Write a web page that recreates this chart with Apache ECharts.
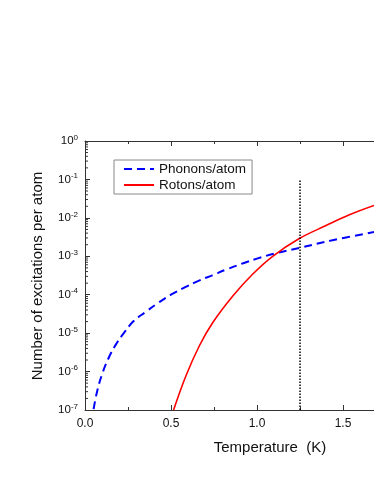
<!DOCTYPE html>
<html>
<head>
<meta charset="utf-8">
<script src="https://cdn.jsdelivr.net/npm/echarts@6/dist/echarts.min.js"></script>
<style>
html,body{margin:0;padding:0;background:#fff;}
#chart{width:374px;height:484px;}
</style>
</head>
<body>
<div id="chart"></div>
<script>
// ---- data ----
const temperaturePhonons = [0.05, 0.07, 0.10, 0.14, 0.18, 0.22, 0.28, 0.35, 0.43, 0.50, 0.58, 0.66, 0.74, 0.82, 0.92, 1.00, 1.10, 1.25, 1.44, 1.68];
const phononsPerAtom = [1.05e-7, 3.0e-7, 8.7e-7, 2.4e-6, 5.1e-6, 9.3e-6, 2.0e-5, 3.5e-5, 6.3e-5, 1.0e-4, 1.55e-4, 2.3e-4, 3.2e-4, 4.5e-4, 6.6e-4, 8.7e-4, 1.17e-3, 1.66e-3, 2.63e-3, 4.27e-3];
const temperatureRotons = [0.515, 0.587, 0.665, 0.742, 0.858, 0.974, 1.091, 1.246, 1.401, 1.537, 1.68];
const rotonsPerAtom = [1.0e-7, 7.8e-7, 4.7e-6, 1.86e-5, 9.1e-5, 3.4e-4, 1.0e-3, 2.9e-3, 6.3e-3, 1.2e-2, 2.1e-2];
const markerTemperature = [1.25, 1.25];
const markerRange = [1e-7, 0.1];
const seriesNames = ['Phonons/atom', 'Rotons/atom'];
const xTickLabels = ['0.0', '0.5', '1.0', '1.5'];
const yMinorMantissas = [2, 3, 4, 5, 6, 7, 8, 9];
const yDecadeExponents = [-7, -6, -5, -4, -3, -2, -1];

const FONT = "'Liberation Sans', Arial, Helvetica, sans-serif";
const zip = (a, b) => a.map((v, i) => [v, b[i]]);

const yMinorTicks = [];
yDecadeExponents.forEach(e => yMinorMantissas.forEach(m => yMinorTicks.push([0, m * Math.pow(10, e)])));

const chart = echarts.init(document.getElementById('chart'), null, {renderer: 'canvas'});

const xCommon = {
  type: 'value', min: 0, max: 1.68, interval: 0.5,
  splitLine: {show: false},
  axisLine: {show: true, onZero: false, lineStyle: {color: '#333', width: 1}},
  axisTick: {show: true, inside: true, length: 5, lineStyle: {color: '#333'}},
  minorTick: {show: true, splitNumber: 2, length: 3, lineStyle: {color: '#333'}},
  minorSplitLine: {show: false}
};

chart.setOption({
  animation: false,
  backgroundColor: '#fff',
  textStyle: {fontFamily: FONT},
  grid: {left: 85, right: 0, top: 141, bottom: 74, containLabel: false},
  legend: {
    data: seriesNames,
    orient: 'vertical',
    left: 114, top: 160,
    padding: [2, 6, 2, 9],
    itemGap: 2,
    itemWidth: 30, itemHeight: 12,
    itemStyle: {opacity: 0},
    borderColor: '#888', borderWidth: 1, borderRadius: 0,
    backgroundColor: '#fff',
    textStyle: {fontFamily: FONT, fontSize: 13.5, color: '#111'}
  },
  xAxis: [
    Object.assign({}, xCommon, {
      position: 'bottom',
      axisLabel: {
        show: true, margin: 8, fontSize: 12, color: '#111', fontFamily: FONT,
        showMaxLabel: false,
        formatter: v => {
          const i = Math.round(v / 0.5);
          return Math.abs(v - i * 0.5) < 1e-6 && xTickLabels[i] !== undefined ? xTickLabels[i] : '';
        }
      }
    }),
    Object.assign({}, xCommon, {position: 'top', axisLabel: {show: false}})
  ],
  yAxis: {
    type: 'log', logBase: 10, min: 1e-7, max: 1, splitNumber: 7,
    splitLine: {show: false},
    axisLine: {show: true, lineStyle: {color: '#333', width: 1}},
    axisTick: {show: true, inside: true, length: 5, lineStyle: {color: '#333'}},
    axisLabel: {
      margin: 7, color: '#111', fontFamily: FONT,
      formatter: v => '{b|10}{s|' + Math.round(Math.log10(v)) + '}',
      rich: {
        b: {fontSize: 11.5, fontFamily: FONT, color: '#111'},
        s: {fontSize: 8, fontFamily: FONT, color: '#111', padding: [0, 0, 7, 0]}
      }
    }
  },
  graphic: [
    {type: 'text', x: 270, y: 448,
     style: {text: 'Temperature  (K)', font: '15px ' + FONT, fill: '#111', textAlign: 'center', textVerticalAlign: 'middle'}},
    {type: 'text', x: 38, y: 276, rotation: Math.PI / 2,
     style: {text: 'Number of excitations per atom', font: '15px ' + FONT, fill: '#111', textAlign: 'center', textVerticalAlign: 'middle'}}
  ],
  series: [
    {
      name: seriesNames[0], type: 'line', xAxisIndex: 0, yAxisIndex: 0,
      data: zip(temperaturePhonons, phononsPerAtom),
      smooth: 0.4, showSymbol: false, symbol: 'none', clip: true,
      lineStyle: {color: '#0000ff', width: 2, type: [8, 5]},
      itemStyle: {color: '#0000ff'}
    },
    {
      name: seriesNames[1], type: 'line', xAxisIndex: 0, yAxisIndex: 0,
      data: zip(temperatureRotons, rotonsPerAtom),
      smooth: 0.4, showSymbol: false, symbol: 'none', clip: true,
      lineStyle: {color: '#ff0000', width: 1.6, type: 'solid'},
      itemStyle: {color: '#ff0000'}
    },
    {
      name: 'marker', type: 'line', xAxisIndex: 0, yAxisIndex: 0,
      data: zip(markerTemperature, markerRange),
      showSymbol: false, symbol: 'none', silent: true,
      lineStyle: {color: '#000', width: 1.5, type: [1.5, 1.5]}
    },
    {
      name: 'yMinorTicks', type: 'custom', xAxisIndex: 0, yAxisIndex: 0,
      silent: true, clip: false,
      data: yMinorTicks,
      renderItem: (params, api) => {
        const p = api.coord([api.value(0), api.value(1)]);
        return {type: 'line', shape: {x1: p[0], y1: p[1], x2: p[0] + 3, y2: p[1]},
                style: {stroke: '#333', lineWidth: 1}};
      }
    }
  ]
});
</script>
</body>
</html>
